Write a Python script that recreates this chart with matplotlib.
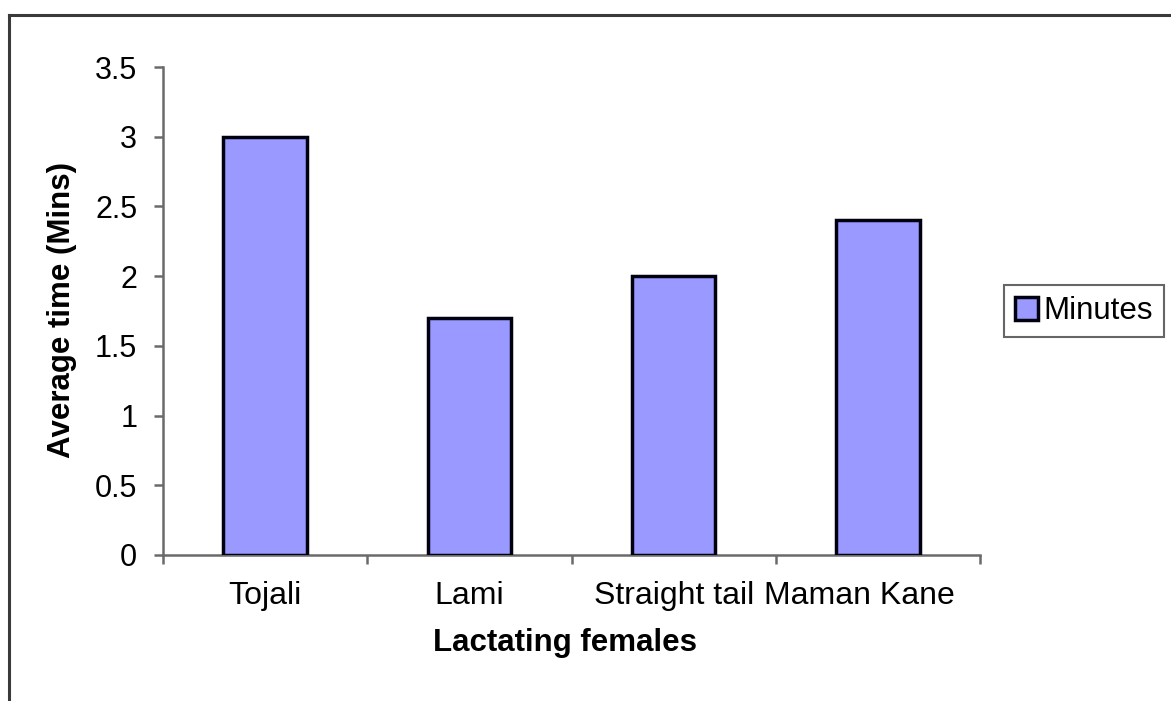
import matplotlib

matplotlib.use("Agg")
import matplotlib.pyplot as plt
import numpy as np
from matplotlib.lines import Line2D
from matplotlib.patches import Patch
from matplotlib.transforms import ScaledTranslation

plt.rcParams["font.family"] = ["Liberation Sans", "DejaVu Sans"]

categories = ["Tojali", "Lami", "Straight tail", "Maman Kane"]
minutes = [3.0, 1.7, 2.0, 2.4]
y_ticks = [0, 0.5, 1, 1.5, 2, 2.5, 3, 3.5]
y_labels = ["0", "0.5", "1", "1.5", "2", "2.5", "3", "3.5"]

W, H = 1171, 701
fig = plt.figure(figsize=(W / 100, H / 100), dpi=100)
ax = fig.add_axes([163 / W, 1 - 555 / H, (980 - 163) / W, (555 - 67) / H])

bar_color = "#9999ff"
x = np.arange(len(categories))
ax.bar(x, minutes, width=0.41, color=bar_color, edgecolor="#000010", linewidth=2.5, zorder=3)

ax.set_xlim(-0.5, len(categories) - 0.5)
ax.set_ylim(0, 3.5)
ax.set_yticks(y_ticks)
ax.set_yticklabels(y_labels)
ax.set_xticks(x)
ax.set_xticklabels(categories)
ax.set_xticks(np.arange(-0.5, len(categories), 1.0), minor=True)

spine_color = "#6a6a6a"
for side in ("top", "right"):
    ax.spines[side].set_visible(False)
for side in ("left", "bottom"):
    ax.spines[side].set_color(spine_color)
    ax.spines[side].set_linewidth(1.8)

ax.tick_params(axis="y", direction="out", length=6.5, width=1.8, color=spine_color,
               labelsize=22, pad=12)
ax.tick_params(axis="x", which="major", length=0, labelsize=23, pad=19)
ax.tick_params(axis="x", which="minor", direction="out", length=6.5, width=1.8, color=spine_color)

# the last category label sits a bit left of its slot, as in the original
last = ax.get_xticklabels()[-1]
last.set_transform(last.get_transform() + ScaledTranslation(-0.19, 0, fig.dpi_scale_trans))

fig.text(565 / W, 1 - 643 / H, "Lactating females", fontsize=22.5, fontweight="bold",
         ha="center", va="center")
fig.text(62 / W, 1 - 310 / H, "Average time (Mins)", rotation=90, fontsize=22.5,
         fontweight="bold", ha="center", va="center")

handle = Patch(facecolor=bar_color, edgecolor="#000010", linewidth=2.5)
leg = fig.legend([handle], ["Minutes"], loc="center left",
                 bbox_to_anchor=(1004 / W, 1 - 311 / H), fontsize=22.5,
                 frameon=True, fancybox=False, handlelength=0.75, handleheight=0.75,
                 handletextpad=0.15, borderpad=0.35, borderaxespad=0)
leg.get_frame().set_edgecolor("#404040")
leg.get_frame().set_linewidth(1.5)

# outer chart frame, clipped by the picture on the right and bottom
frame_color = "#3a3a3a"
fig.add_artist(Line2D([9 / W, 1.0], [1 - 15 / H, 1 - 15 / H], color=frame_color, linewidth=2.2))
fig.add_artist(Line2D([9 / W, 9 / W], [0.0, 1 - 15 / H], color=frame_color, linewidth=2.2))

fig.savefig("out.png", dpi=100)
plt.close(fig)
